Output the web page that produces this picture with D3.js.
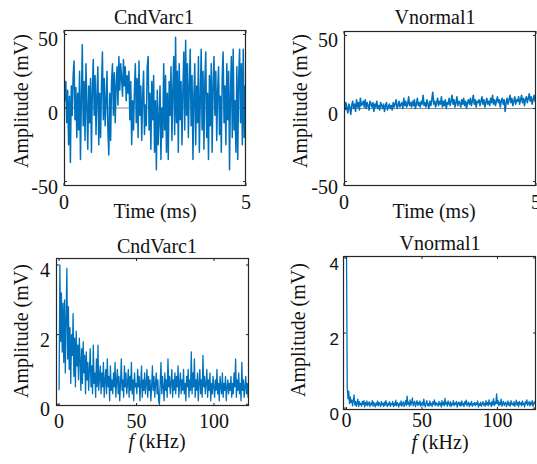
<!DOCTYPE html>
<html>
<head>
<meta charset="utf-8">
<script src="https://cdn.jsdelivr.net/npm/d3@7"></script>
<style>
  html, body { margin: 0; padding: 0; background: #fff; }
  svg { display: block; }
</style>
</head>
<body>
<div id="chart"></div>
<script>
// ---- data ----
// CndVarc1 time signal, 0..5 ms (mV)
const cndTime = [
  28, 5, 18, -10, 12, -25, 8, -37, 15, -5,
  22, 32, -8, 14, -20, 10, -15, 25, -35, 6,
  43, -12, 18, -22, 30, 2, -28, 15, -10, 20,
  -30, 12, 33, -5, 22, -18, 8, 28, -25, 10,
  -20, 15, 38, -8, 20, -12, 5, 25, -15, -32,
  10, -22, 18, 30, -5, 24, -10, 15, 28, 2,
  35, 12, 30, 20, 8, 33, 15, 28, 5, 22,
  10, 25, -8, 18, -25, 5, -15, 12, 30, -10,
  20, -20, 32, -5, 15, -22, 8, 25, -18, 2,
  -12, 28, 35, -15, 10, -28, 18, -8, 22, -30,
  5, -42, 12, -25, -8, 15, -35, 0, -20, 30,
  -15, 22, -30, 10, -35, 18, -5, 28, -22, 12,
  35, -18, 48, -10, 25, -30, 30, -8, 18, -25,
  12, 38, -15, 46, -5, 30, -20, 15, 40, -12,
  22, -35, 8, 30, -25, 15, -10, 35, -30, 5,
  40, -15, 25, -28, 18, 38, -20, 10, -35, 22,
  -12, 30, -30, 15, 35, -5, 25, -22, 12, 28,
  -18, 8, -30, 22, 38, -10, 15, -25, 30, -8,
  25, -42, 10, 35, -20, 40, -15, 5, -30, 28,
  -35, 20, 40, -10, 30, -25, 40, -20, 15, -48
];

// Vnormal1 time signal, 0..5 ms (mV)
const normTime = [
  2, -1, 4, 0, -3, 3, 1, -4, 2, 5,
  0, 3, -2, 6, 1, 4, -1, 7, 2, 3,
  5, 1, 6, 0, 4, 2, -1, 5, 3, 1,
  4, -2, 3, 1, 5, 0, 2, -1, 4, 2,
  0, 3, -2, 2, 4, -1, 1, 3, 0, 2,
  -1, 4, 1, 3, 6, 0, 2, 5, 1, 3,
  4, 0, 7, 2, 5, 1, 3, 8, 2, 4,
  1, 5, 2, 6, 0, 3, 7, 2, 4, 1,
  5, 3, 9, 2, 4, 1, 6, 3, 0, 5,
  2, 6, 11, 3, 5, 1, 4, 7, 2, 5,
  3, 8, 1, 5, 2, 6, 0, 4, 3, 7,
  2, 5, 9, 3, 6, 1, 4, 8, 2, 5,
  4, 1, 6, 3, 7, 2, 5, 0, 4, 6,
  3, 7, 2, 5, 9, 3, 6, 1, 5, 4,
  6, 2, 5, 8, 3, 6, 1, 4, 7, 3,
  5, 2, 7, 4, 9, 3, 6, 2, 5, 8,
  4, 6, 1, 5, 7, 3, 6, -2, 4, 7,
  3, 6, 9, 4, 7, 2, 5, 8, 3, 6,
  5, 8, 3, 6, 9, 4, 7, 2, 6, 8,
  4, 7, 10, 5, 8, 3, 6, 9, 5, 7
];

// CndVarc1 spectrum, 0..125 kHz (mV)
const cndFreq = [
  0.4, 4.0, 1.8, 3.2, 1.5, 2.9, 1.2, 3.0, 0.9, 2.5,
  3.9, 1.3, 2.8, 1.0, 2.2, 0.6, 2.0, 1.4, 2.6, 0.8,
  1.9, 0.5, 2.1, 1.1, 1.7, 0.7, 1.9, 1.3, 0.4, 1.6,
  0.6, 1.8, 0.9, 1.4, 0.3, 1.5, 0.7, 1.2, 0.4, 1.0,
  1.6, 0.5, 1.1, 0.3, 1.7, 0.6, 0.9, 0.2, 1.3, 0.5,
  1.7, 0.4, 0.8, 1.1, 0.3, 0.9, 0.5, 1.2, 0.2, 0.7,
  1.0, 0.3, 1.3, 0.5, 0.8, 0.1, 1.1, 0.4, 0.7, 0.3,
  0.9, 0.5, 1.2, 0.2, 0.7, 1.0, 0.3, 0.8, 0.1, 0.6,
  1.3, 0.4, 0.7, 0.2, 1.1, 0.5, 0.9, 0.3, 0.6, 1.0,
  0.2, 0.8, 0.4, 1.2, 0.3, 0.7, 0.1, 0.9, 0.5, 0.6,
  0.3, 1.0, 0.5, 0.8, 0.1, 0.6, 1.1, 0.2, 0.7, 0.4,
  0.9, 0.3, 0.6, 1.0, 0.2, 0.8, 0.4, 0.7, 0.1, 0.5,
  1.1, 0.4, 0.8, 0.2, 0.6, 0.9, 0.3, 0.7, 0.1, 0.0,
  0.6, 1.2, 0.3, 0.8, 0.5, 0.1, 0.9, 0.4, 0.7, 0.2,
  1.3, 0.5, 0.8, 0.3, 0.6, 1.0, 0.2, 0.7, 0.4, 0.9,
  0.3, 0.8, 0.5, 1.1, 0.2, 0.6, 0.9, 0.3, 0.7, 0.4,
  1.0, 0.3, 0.6, 0.1, 0.8, 0.5, 1.0, 0.2, 0.7, 0.4,
  1.5, 0.3, 0.9, 0.5, 1.3, 0.2, 0.7, 0.4, 0.9, 0.1,
  0.6, 1.0, 0.3, 0.7, 0.2, 1.4, 0.5, 0.8, 0.3, 0.6,
  1.0, 0.2, 0.7, 0.4, 0.9, 0.1, 0.6, 0.3, 0.8, 0.5,
  0.2, 0.7, 0.4, 1.0, 0.3, 0.6, 0.1, 0.8, 0.5, 0.3,
  0.9, 0.2, 0.6, 0.4, 0.8, 0.1, 0.5, 0.7, 0.3, 0.6,
  0.4, 0.8, 0.2, 0.6, 0.3, 0.9, 0.5, 1.3, 0.2, 0.7,
  0.4, 0.9, 0.3, 0.6, 0.1, 1.2, 0.4, 0.7, 0.2, 0.5,
  0.8, 0.3, 0.6, 0.2, 0.7, 0.4, 0.8, 0.3, 0.6, 0.4
];

// Vnormal1 spectrum, 0..125 kHz (mV)
const normFreq = [
  4.3, 0.55, 0.25, 0.45, 0.12, 0.3, 0.15, 0.22, 0.06, 0.2,
  0.35, 0.08, 0.18, 0.05, 0.14, 0.24, 0.04, 0.17, 0.09, 0.13,
  0.05, 0.18, 0.1, 0.2, 0.03, 0.15, 0.08, 0.19, 0.06, 0.12,
  0.17, 0.04, 0.13, 0.09, 0.2, 0.05, 0.16, 0.1, 0.03, 0.14,
  0.08, 0.19, 0.06, 0.15, 0.11, 0.04, 0.18, 0.09, 0.13, 0.05,
  0.16, 0.07, 0.2, 0.1, 0.04, 0.14, 0.08, 0.17, 0.05, 0.12,
  0.09, 0.18, 0.04, 0.13, 0.07, 0.21, 0.06, 0.15, 0.1, 0.03,
  0.14, 0.08, 0.19, 0.05, 0.12, 0.17, 0.04, 0.11, 0.2, 0.07,
  0.32, 0.1, 0.16, 0.05, 0.22, 0.08, 0.14, 0.27, 0.06, 0.13,
  0.18, 0.04, 0.12, 0.2, 0.07, 0.15, 0.09, 0.19, 0.05, 0.11,
  0.16, 0.06, 0.24, 0.1, 0.03, 0.14, 0.2, 0.07, 0.12, 0.05,
  0.19, 0.08, 0.13, 0.04, 0.17, 0.1, 0.22, 0.06, 0.15, 0.09,
  0.12, 0.05, 0.18, 0.09, 0.14, 0.03, 0.2, 0.08, 0.16, 0.06,
  0.26, 0.1, 0.15, 0.05, 0.19, 0.12, 0.07, 0.17, 0.04, 0.13,
  0.09, 0.2, 0.06, 0.14, 0.1, 0.18, 0.03, 0.12, 0.16, 0.07,
  0.15, 0.05, 0.19, 0.08, 0.13, 0.04, 0.17, 0.1, 0.21, 0.06,
  0.11, 0.16, 0.04, 0.13, 0.08, 0.18, 0.05, 0.12, 0.09, 0.15,
  0.06, 0.14, 0.1, 0.19, 0.03, 0.12, 0.07, 0.16, 0.05, 0.11,
  0.17, 0.08, 0.13, 0.05, 0.2, 0.09, 0.15, 0.06, 0.22, 0.1,
  0.14, 0.04, 0.18, 0.09, 0.25, 0.07, 0.16, 0.11, 0.38, 0.12,
  0.2, 0.06, 0.15, 0.09, 0.24, 0.05, 0.13, 0.18, 0.07, 0.12,
  0.16, 0.04, 0.11, 0.19, 0.08, 0.14, 0.05, 0.2, 0.1, 0.13,
  0.07, 0.17, 0.05, 0.12, 0.21, 0.08, 0.15, 0.04, 0.18, 0.1,
  0.14, 0.06, 0.19, 0.09, 0.13, 0.03, 0.17, 0.11, 0.22, 0.07,
  0.12, 0.18, 0.06, 0.15, 0.09, 0.2, 0.05, 0.13, 0.17, 0.1
];

const timeSpan = 5;      // ms
const freqSpan = 125;    // kHz
const timeTicks = [0, 5];
const timeAmpTicks = [-50, 0, 50];
const freqTicks = [0, 50, 100];
const freqAmpTicks = [0, 2, 4];

// ---- drawing ----
const W = 537, H = 464;
const BLUE = "#0072BD";
const SERIF = "'Liberation Serif', 'Times New Roman', serif";
const SANS = "'Liberation Sans', Arial, sans-serif";

const svg = d3.select("#chart").append("svg")
  .attr("width", W).attr("height", H);

const panels = [
  { id: "p1", title: "CndVarc1", values: cndTime, span: timeSpan, freq: false, lw: 1.5,
    box: [64, 30, 246, 186], xdom: [0, 5], ydom: [-53, 53],
    xt: timeTicks, yt: timeAmpTicks, zero: true, tickFont: SERIF, tickSize: 20, yOff: 5,
    titleX: 154, titleY: 24, xlabX: 155, xlabY: 218, ylabX: 28, ylabY: 101, xtY: 209 },
  { id: "p2", title: "Vnormal1", values: normTime, span: timeSpan, freq: false, lw: 1.6,
    box: [344, 31, 536, 186], xdom: [0, 5], ydom: [-53, 53],
    xt: timeTicks, yt: timeAmpTicks, zero: true, tickFont: SERIF, tickSize: 20, yOff: 5,
    titleX: 435, titleY: 24, xlabX: 434, xlabY: 218, ylabX: 307, ylabY: 101, xtY: 209 },
  { id: "p3", title: "CndVarc1", values: cndFreq, span: freqSpan, freq: true, lw: 1.3,
    box: [56, 258, 249, 406], xdom: [-2, 122.6], ydom: [-0.05, 4.2],
    xt: freqTicks, yt: freqAmpTicks, zero: false, tickFont: SERIF, tickSize: 20, yOff: 5,
    titleX: 157, titleY: 253, xlabX: 157, xlabY: 448, ylabX: 28, ylabY: 331, xtY: 428 },
  { id: "p4", title: "Vnormal1", values: normFreq, span: freqSpan, freq: true, lw: 1.3,
    box: [343, 256, 536, 410], xdom: [-2.3, 125.5], ydom: [-0.05, 4.05],
    xt: freqTicks, yt: freqAmpTicks, zero: false, tickFont: SANS, tickSize: 17, yOff: 6,
    titleX: 440, titleY: 250, xlabX: 440, xlabY: 449, ylabX: 305, ylabY: 330, xtY: 427 }
];

panels.forEach(p => {
  const [x0, y0, x1, y1] = p.box;
  const x = d3.scaleLinear().domain(p.xdom).range([x0, x1]);
  const y = d3.scaleLinear().domain(p.ydom).range([y1, y0]);
  const g = svg.append("g");

  g.append("clipPath").attr("id", "clip-" + p.id)
    .append("rect").attr("x", x0).attr("y", y0)
    .attr("width", x1 - x0).attr("height", y1 - y0);

  g.append("rect").attr("x", x0).attr("y", y0)
    .attr("width", x1 - x0).attr("height", y1 - y0).attr("fill", "#fff");

  if (p.zero) {
    g.append("line")
      .attr("x1", x0).attr("x2", x1)
      .attr("y1", y(0)).attr("y2", y(0))
      .attr("stroke", "#8a8a8a").attr("stroke-width", 1.2);
  }

  const n = p.values.length;
  const line = d3.line()
    .x((d, i) => x(i * p.span / (n - 1)))
    .y(d => y(d));

  g.append("path")
    .datum(p.values)
    .attr("clip-path", `url(#clip-${p.id})`)
    .attr("d", line)
    .attr("fill", "none")
    .attr("stroke", BLUE)
    .attr("stroke-width", p.lw)
    .attr("stroke-linejoin", "round");

  // inward tick marks on all four sides
  const tl = 3;
  p.xt.forEach(v => {
    const xx = x(v);
    g.append("line").attr("x1", xx).attr("x2", xx).attr("y1", y1).attr("y2", y1 - tl).attr("stroke", "#262626");
    g.append("line").attr("x1", xx).attr("x2", xx).attr("y1", y0).attr("y2", y0 + tl).attr("stroke", "#262626");
    g.append("text").attr("x", xx).attr("y", p.xtY)
      .attr("text-anchor", "middle")
      .attr("font-family", SERIF).attr("font-size", 20)
      .attr("fill", "#111").text(v);
  });
  p.yt.forEach(v => {
    const yy = y(v);
    g.append("line").attr("x1", x0).attr("x2", x0 + tl).attr("y1", yy).attr("y2", yy).attr("stroke", "#262626");
    g.append("line").attr("x1", x1).attr("x2", x1 - tl).attr("y1", yy).attr("y2", yy).attr("stroke", "#262626");
    g.append("text").attr("x", x0 - (p.tickFont === SANS ? 4 : 6)).attr("y", yy + p.yOff)
      .attr("dy", "0.35em")
      .attr("text-anchor", "end")
      .attr("font-family", p.tickFont).attr("font-size", p.tickSize)
      .attr("fill", "#111").text(v);
  });

  g.append("rect").attr("x", x0 + 0.5).attr("y", y0 + 0.5)
    .attr("width", x1 - x0 - 1).attr("height", y1 - y0 - 1)
    .attr("fill", "none").attr("stroke", "#262626").attr("stroke-width", 1.2);

  g.append("text").attr("x", p.titleX).attr("y", p.titleY)
    .attr("text-anchor", "middle")
    .attr("font-family", SERIF).attr("font-size", 20)
    .attr("fill", "#111").text(p.title);

  const xl = g.append("text").attr("x", p.xlabX).attr("y", p.xlabY)
    .attr("text-anchor", "middle")
    .attr("font-family", SERIF).attr("font-size", 20).attr("fill", "#111");
  if (p.freq) {
    xl.append("tspan").attr("font-style", "italic").text("f");
    xl.append("tspan").text(" (kHz)");
  } else {
    xl.text("Time (ms)");
  }

  g.append("text")
    .attr("transform", `translate(${p.ylabX},${p.ylabY}) rotate(-90)`)
    .attr("text-anchor", "middle")
    .attr("font-family", SERIF).attr("font-size", 20)
    .attr("fill", "#111").text("Amplitude (mV)");
});
</script>
</body>
</html>
